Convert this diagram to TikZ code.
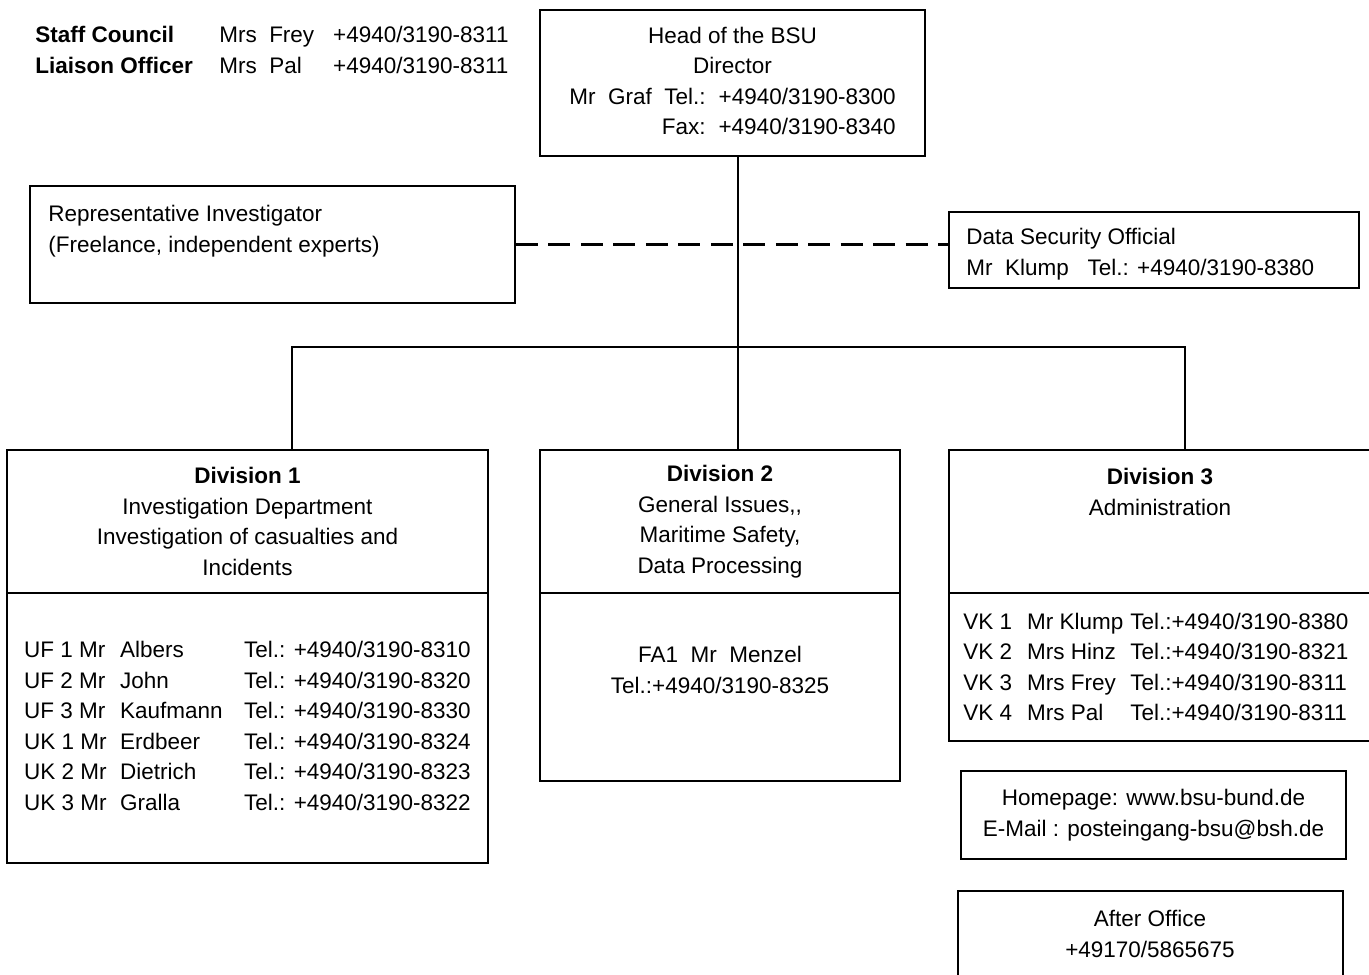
\documentclass[tikz,border=0pt]{standalone}
\usepackage{fontspec}
\setmainfont{Liberation Sans}
\usetikzlibrary{positioning,fit,calc}
\newcommand{\orgfont}{\fontsize{12.8pt}{17.4pt}\selectfont}

\begin{document}
\begin{tikzpicture}[
  x=0.02cm, y=-0.02cm,
  box/.style={draw, line width=0.9pt, inner sep=0pt},
  txt/.style={inner sep=0pt, align=left, font=\orgfont},
  ctxt/.style={txt, align=center},
  line/.style={line width=1.6pt},
  dline/.style={line width=2pt, dash pattern=on 0.44cm off 0.21cm}
]
  \useasboundingbox (0,0) rectangle (1369,974);
  % staff council
  \node[txt, anchor=west] (council) at (35,52) {\begin{tabular}{@{}l@{\hspace{0.53cm}}l@{\hspace{0.38cm}}l@{}}
    \textbf{Staff Council} & Mrs\ \ Frey & +4940/3190-8311\\
    \textbf{Liaison Officer} & Mrs\ \ Pal & +4940/3190-8311
  \end{tabular}};
  % head
  \node[box, fit={(540,10) (925,156)}] (head) {};
  \node[ctxt] (headtxt) at (head.center) {\begin{tabular}{@{}r@{\hspace{0.26cm}}l@{}}
    \multicolumn{2}{c}{Head of the BSU}\\
    \multicolumn{2}{c}{Director}\\
    Mr\ \ Graf\ \ Tel.: & +4940/3190-8300\\
    Fax: & +4940/3190-8340
  \end{tabular}};
  % staff units
  \node[box, fit={(30,186) (515,303)}] (rep) {};
  \node[txt, anchor=west] (reptxt) at (48,231) {Representative Investigator\\(Freelance, independent experts)};
  \node[box, fit={(949,212) (1359,288)}] (datasec) {};
  \node[txt, anchor=west] (datatxt) at (966,254) {Data Security Official\\Mr\ \ Klump\ \ \ Tel.: +4940/3190-8380};
  % division 1
  \node[box, fit={(7,450) (488,593)}] (div1head) {};
  \node[ctxt] (div1title) at (div1head.center) {\textbf{Division 1}\\Investigation Department\\Investigation of casualties and\\Incidents};
  \node[box, fit={(7,593) (488,863)}] (div1body) {};
  \node[txt] (div1list) at (div1body.center) {\begin{tabular}{@{}l@{\hspace{0.27cm}}l@{\hspace{0.43cm}}l@{}}
    UF 1 Mr & Albers & Tel.: +4940/3190-8310\\
    UF 2 Mr & John & Tel.: +4940/3190-8320\\
    UF 3 Mr & Kaufmann & Tel.: +4940/3190-8330\\
    UK 1 Mr & Erdbeer & Tel.: +4940/3190-8324\\
    UK 2 Mr & Dietrich & Tel.: +4940/3190-8323\\
    UK 3 Mr & Gralla & Tel.: +4940/3190-8322
  \end{tabular}};
  % division 2
  \node[box, fit={(540,450) (900,593)}] (div2head) {};
  \node[ctxt] (div2title) at (div2head.center) {\textbf{Division 2}\\General Issues,{},\\Maritime Safety,\\Data Processing};
  \node[box, fit={(540,593) (900,781)}] (div2body) {};
  \node[ctxt] (div2txt) at (720,670) {FA1\ \ Mr\ \ Menzel\\Tel.:+4940/3190-8325};
  % division 3
  \node[box, fit={(949,450) (1372,593)}] (div3head) {};
  \node[ctxt] (div3title) at (1160,492) {\textbf{Division 3}\\Administration};
  \node[box, fit={(949,593) (1372,741)}] (div3body) {};
  \node[txt, anchor=west] (div3list) at (963,669) {\begin{tabular}{@{}l@{\hspace{0.3cm}}l@{\hspace{0.14cm}}l@{}}
    VK 1 & Mr Klump & Tel.:+4940/3190-8380\\
    VK 2 & Mrs Hinz & Tel.:+4940/3190-8321\\
    VK 3 & Mrs Frey & Tel.:+4940/3190-8311\\
    VK 4 & Mrs Pal & Tel.:+4940/3190-8311
  \end{tabular}};
  % contact
  \node[box, fit={(961,771) (1346,859)}] (web) {};
  \node[ctxt] (webtxt) at (web.center) {Homepage: www.bsu-bund.de\\E-Mail : posteingang-bsu@bsh.de};
  \node[box, fit={(958,891) (1343,977)}] (after) {};
  \node[ctxt] (aftertxt) at (1150,934) {After Office\\+49170/5865675};
  % connectors
  \coordinate (hub) at (738,347);
  \coordinate (busL) at (292,347);
  \coordinate (busR) at (1185,347);
  \draw[line] (hub |- head.south) -- (hub |- div2head.north);
  \draw[line] (busL |- div1head.north) -- (busL) -- (busR) -- (busR |- div3head.north);
  \draw[dline] (rep.east) -- (rep.east -| datasec.west);
\end{tikzpicture}
\end{document}
